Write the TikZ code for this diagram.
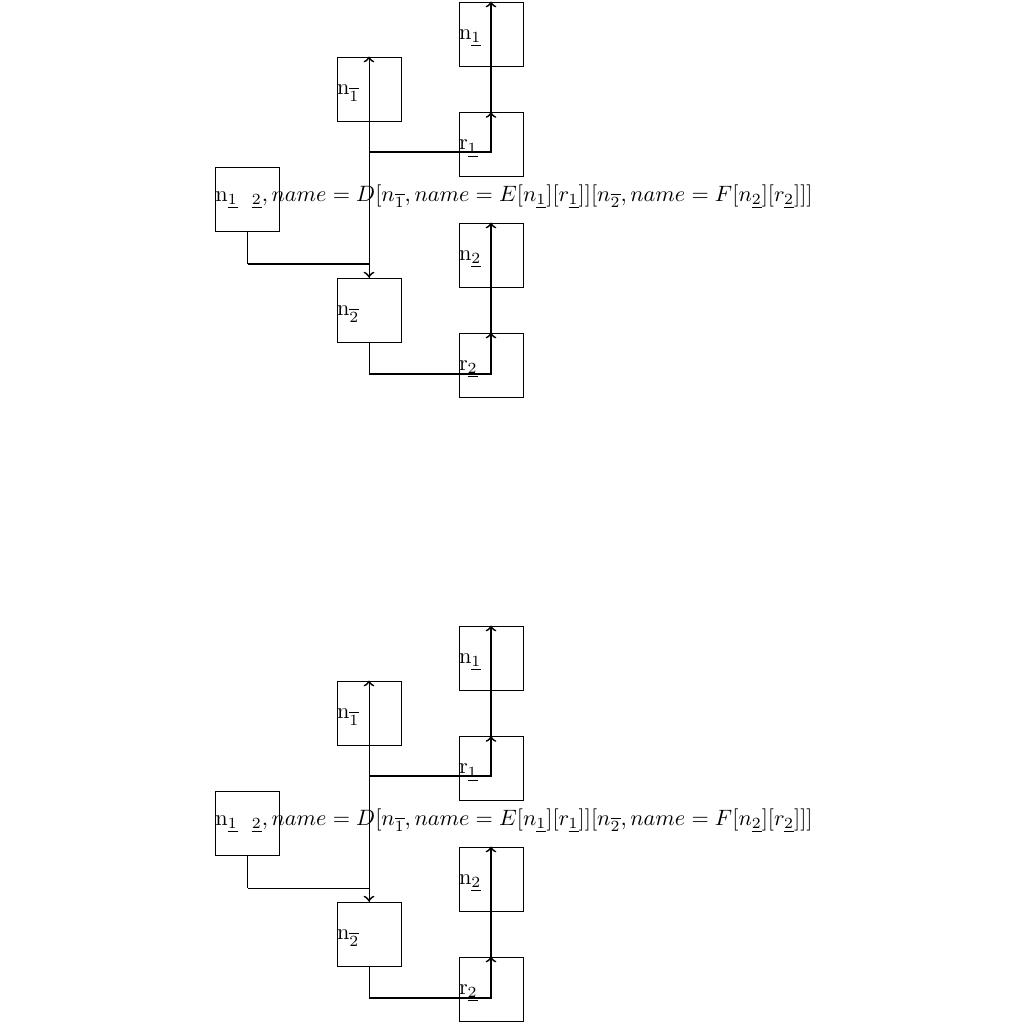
\documentclass[tikz,border=0pt]{standalone}
\newcommand\treecopy[3]{%
  % #1 name prefix, #2 vertical offset (px), #3 style of the root's horizontal link
  \node[box] (#1A)   at (247.5,{199.5+#2}) {};
  \node[box] (#1N1b) at (369,{89+#2}) {};
  \node[box] (#1N1)  at (491,{34+#2}) {};
  \node[box] (#1R1)  at (491,{144.5+#2}) {};
  \node[box] (#1N2)  at (491,{255+#2}) {};
  \node[box] (#1N2b) at (369,{310+#2}) {};
  \node[box] (#1R2)  at (491,{365+#2}) {};
  \node[rootlbl] (#1Al) at (#1A.west) {n$_{\underline{1}}$\hspace{6.3pt}$_{\underline{2}}, name = D[n_{\overline{1}}, name = E[n_{\underline{1}}][r_{\underline{1}}]][n_{\overline{2}}, name = F[n_{\underline{2}}][r_{\underline{2}}]]]$};
  \node[lbl] (#1N1bl) at (#1N1b.west) {n$_{\overline{1}}$};
  \node[lbl] (#1N1l)  at (#1N1.west) {n$_{\underline{1}}$};
  \node[lbl] (#1R1l)  at (#1R1.west) {r$_{\underline{1}}$};
  \node[lbl] (#1N2l)  at (#1N2.west) {n$_{\underline{2}}$};
  \node[lbl] (#1N2bl) at (#1N2b.west) {n$_{\overline{2}}$};
  \node[lbl] (#1R2l)  at (#1R2.west) {r$_{\underline{2}}$};
  \coordinate (#1ja) at (247.5,{264+#2});
  \coordinate (#1j)  at (369,{264+#2});
  \coordinate (#1k)  at (369,{152+#2});
  \coordinate (#1m)  at (369,{374+#2});
  \draw[thk] (#1A.south) -- (#1ja);
  \draw[#3] (#1ja) -- (#1j);
  \draw[thn] (#1j) -- (#1N1b.north);
  \draw[thk,->] ([yshift=-0.6pt]#1N1b.north) -- (#1N1b.north);
  \draw[thn] (#1j) -- (#1N2b.north);
  \draw[thk,->] ([yshift=0.6pt]#1N2b.north) -- (#1N2b.north);
  \draw[thk,->] (#1k) -| (#1R1.north);
  \draw[thk,->] (#1R1.north) -- (#1N1.north);
  \draw[thn] (#1N2b.south) -- (#1m);
  \draw[thk,->] (#1m) -| (#1R2.north);
  \draw[thk,->] (#1R2.north) -- (#1N2.north);
}
\begin{document}
\begin{tikzpicture}[x=0.45pt,y=-0.45pt,>=to,
  box/.style={draw, minimum width=28.8pt, minimum height=28.8pt, inner sep=0pt, line width=0.4pt},
  lbl/.style={anchor=base west, inner sep=0pt, yshift=-2.4pt},
  rootlbl/.style={anchor=base west, inner sep=0pt, yshift=-0.7pt},
  thk/.style={line width=0.8pt},
  thn/.style={line width=0.4pt}]
\useasboundingbox (0,0) rectangle (1024,1024);
\treecopy{t}{0}{thk}
\treecopy{b}{624}{thn}
\end{tikzpicture}
\end{document}
